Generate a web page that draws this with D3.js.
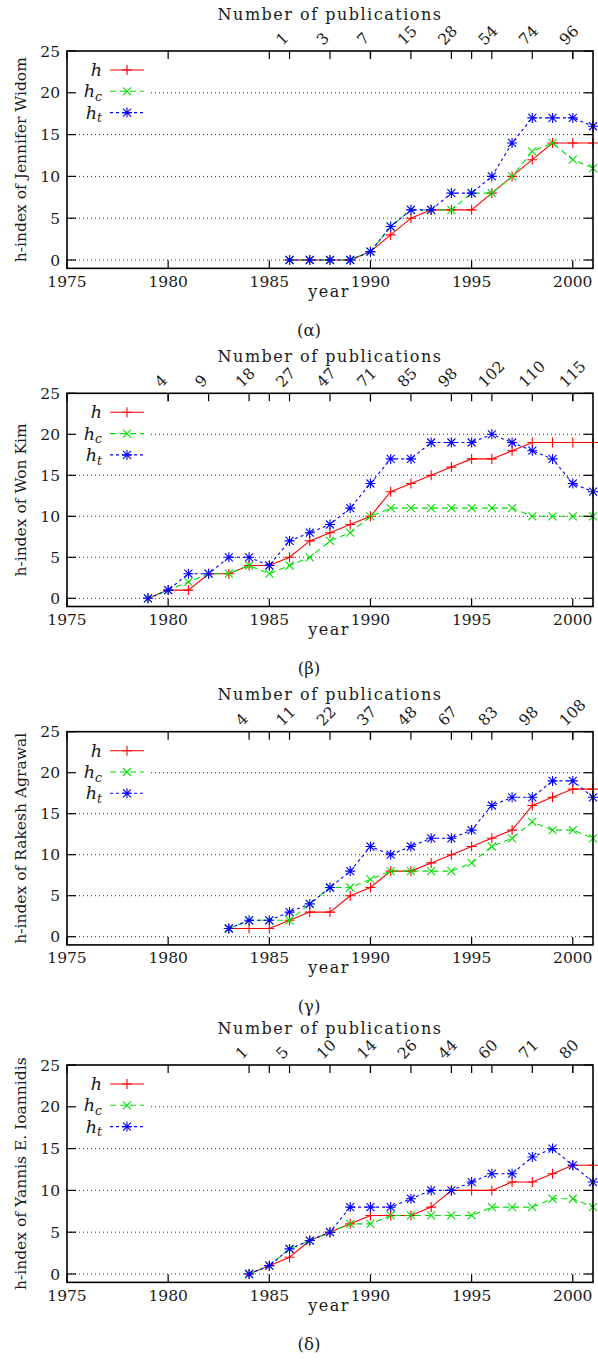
<!DOCTYPE html>
<html><head><meta charset="utf-8">
<script src="https://cdn.jsdelivr.net/npm/d3@7"></script>
<style>body{margin:0;background:#fff}svg{display:block}</style>
</head><body>
<svg id="c" width="598" height="1363"></svg>
<script>
// ---------- data ----------
const namesList = ["Jennifer Widom", "Won Kim", "Rakesh Agrawal", "Yannis E. Ioannidis"];
const captions = ["(α)", "(β)", "(γ)", "(δ)"];
const xTicks = [1975, 1980, 1985, 1990, 1995, 2000];
const yTicks = [0, 5, 10, 15, 20, 25];

const yearsA = [1986,1987,1988,1989,1990,1991,1992,1993,1994,1995,1996,1997,1998,1999,2000,2001];
const hA  = [0,0,0,0,1,3,5,6,6,6,8,10,12,14,14,14];
const hcA = [0,0,0,0,1,4,6,6,6,8,8,10,13,14,12,11];
const htA = [0,0,0,0,1,4,6,6,8,8,10,14,17,17,17,16];
const pubYearsA = [1986,1988,1990,1992,1994,1996,1998,2000];
const pubLabelsA = ["1","3","7","15","28","54","74","96"];

const yearsB = [1979,1980,1981,1982,1983,1984,1985,1986,1987,1988,1989,1990,1991,1992,1993,1994,1995,1996,1997,1998,1999,2000,2001];
const hB  = [0,1,1,3,3,4,4,5,7,8,9,10,13,14,15,16,17,17,18,19,19,19,19];
const hcB = [0,1,2,3,3,4,3,4,5,7,8,10,11,11,11,11,11,11,11,10,10,10,10];
const htB = [0,1,3,3,5,5,4,7,8,9,11,14,17,17,19,19,19,20,19,18,17,14,13];
const pubYearsB = [1980,1982,1984,1986,1988,1990,1992,1994,1996,1998,2000];
const pubLabelsB = ["4","9","18","27","47","71","85","98","102","110","115"];

const yearsC = [1983,1984,1985,1986,1987,1988,1989,1990,1991,1992,1993,1994,1995,1996,1997,1998,1999,2000,2001];
const hC  = [1,1,1,2,3,3,5,6,8,8,9,10,11,12,13,16,17,18,18];
const hcC = [1,2,2,2,4,6,6,7,8,8,8,8,9,11,12,14,13,13,12];
const htC = [1,2,2,3,4,6,8,11,10,11,12,12,13,16,17,17,19,19,17];
const pubYearsC = [1984,1986,1988,1990,1992,1994,1996,1998,2000];
const pubLabelsC = ["4","11","22","37","48","67","83","98","108"];

const yearsD = [1984,1985,1986,1987,1988,1989,1990,1991,1992,1993,1994,1995,1996,1997,1998,1999,2000,2001];
const hD  = [0,1,2,4,5,6,7,7,7,8,10,10,10,11,11,12,13,13];
const hcD = [0,1,3,4,5,6,6,7,7,7,7,7,8,8,8,9,9,8];
const htD = [0,1,3,4,5,8,8,8,9,10,10,11,12,12,14,15,13,11];
const pubYearsD = [1984,1986,1988,1990,1992,1994,1996,1998,2000];
const pubLabelsD = ["1","5","10","14","26","44","60","71","80"];

const seriesNames = ["h", "c", "t"];

// ---------- assemble ----------
const panels = [
  {years: yearsA, vals: [hA, hcA, htA], pubYears: pubYearsA, pubLabels: pubLabelsA},
  {years: yearsB, vals: [hB, hcB, htB], pubYears: pubYearsB, pubLabels: pubLabelsB},
  {years: yearsC, vals: [hC, hcC, htC], pubYears: pubYearsC, pubLabels: pubLabelsC},
  {years: yearsD, vals: [hD, hcD, htD], pubYears: pubYearsD, pubLabels: pubLabelsD}
];
panels.forEach((p, i) => { p.name = namesList[i]; p.caption = captions[i]; });

// ---------- layout ----------
const tops  = [51, 393.3, 731.7, 1065];
const zeros = [260, 598.3, 936.7, 1274];
const colors = ["#ff0000", "#00e000", "#0000ff"];
const dashes = [null, "6,4", "3,3"];
const FONT = "DejaVu Serif";
const FS = 15.5;
const INK = "#1a1a1a";

const svg = d3.select("#c");
const x = d3.scaleLinear().domain([1975, 2001]).range([67, 593]);

const markerPath = (k, s) => {
  const plus = `M${-s},0H${s}M0,${-s}V${s}`;
  const d = s * 0.8;
  const cross = `M${-d},${-d}L${d},${d}M${-d},${d}L${d},${-d}`;
  return k === 0 ? plus : k === 1 ? cross : plus + cross;
};

panels.forEach((p, pi) => {
  const top = tops[pi], zero = zeros[pi];
  const y = d3.scaleLinear().domain([0, 25]).range([zero, top]);
  const bottom = y(-1);
  const g = svg.append("g");

  // grid (dotted)
  g.selectAll(".grid").data(yTicks.filter(v => v < 25)).enter().append("line")
    .attr("x1", x(1975)).attr("x2", x(2001))
    .attr("y1", d => y(d)).attr("y2", d => y(d))
    .attr("stroke", "#333").attr("stroke-width", 1).attr("stroke-dasharray", "1,3");

  // legend background (opaque key)
  g.append("rect").attr("x", x(1975) + 1).attr("y", top + 2)
    .attr("width", 82).attr("height", 70).attr("fill", "#fff");

  // series
  p.vals.forEach((vals, k) => {
    const pts = p.years.map((yr, i) => [yr, vals[i]]);
    const line = d3.line().x(d => x(d[0])).y(d => y(d[1]));
    g.append("path").attr("d", line(pts)).attr("fill", "none")
      .attr("stroke", colors[k]).attr("stroke-width", 1.1)
      .attr("stroke-dasharray", dashes[k]);
    g.selectAll(".m" + k).data(pts).enter().append("path")
      .attr("transform", d => `translate(${x(d[0])},${y(d[1])})`)
      .attr("d", markerPath(k, 5)).attr("stroke", colors[k]).attr("stroke-width", 1.1).attr("fill", "none");
  });

  // legend
  p.vals.forEach((vals, k) => {
    const ly = top + 19 + k * 21.3;
    const t = g.append("text").attr("x", 102).attr("y", ly).attr("dy", "0.35em")
      .attr("text-anchor", "end").attr("font-family", FONT).attr("font-style", "italic")
      .attr("font-size", FS + 2).attr("fill", INK).text("h");
    if (k > 0) {
      t.append("tspan").attr("font-size", FS - 3).attr("dy", "0.3em").text(seriesNames[k]);
    }
    g.append("line").attr("x1", 110).attr("x2", 144).attr("y1", ly).attr("y2", ly)
      .attr("stroke", colors[k]).attr("stroke-width", 1.1).attr("stroke-dasharray", dashes[k]);
    g.append("path").attr("transform", `translate(127,${ly})`).attr("d", markerPath(k, 5))
      .attr("stroke", colors[k]).attr("stroke-width", 1.1).attr("fill", "none");
  });

  // border
  g.append("rect").attr("x", x(1975)).attr("y", top).attr("width", x(2001) - x(1975))
    .attr("height", bottom - top).attr("fill", "none").attr("stroke", "#000").attr("stroke-width", 1.6);

  // y ticks (left and mirrored right)
  yTicks.forEach(v => {
    g.append("line").attr("x1", x(1975)).attr("x2", x(1975) + 9).attr("y1", y(v)).attr("y2", y(v))
      .attr("stroke", "#000").attr("stroke-width", 1.2);
    g.append("line").attr("x1", x(2001)).attr("x2", x(2001) - 9).attr("y1", y(v)).attr("y2", y(v))
      .attr("stroke", "#000").attr("stroke-width", 1.2);
    g.append("text").attr("x", 60).attr("y", y(v)).attr("dy", "0.36em").attr("text-anchor", "end")
      .attr("font-family", FONT).attr("font-size", FS).attr("fill", INK).text(v);
  });

  // x ticks (bottom and mirrored top)
  xTicks.forEach(v => {
    g.append("line").attr("x1", x(v)).attr("x2", x(v)).attr("y1", bottom).attr("y2", bottom - 8)
      .attr("stroke", "#000").attr("stroke-width", 1.2);
    g.append("line").attr("x1", x(v)).attr("x2", x(v)).attr("y1", top).attr("y2", top + 8)
      .attr("stroke", "#000").attr("stroke-width", 1.2);
    g.append("text").attr("x", x(v)).attr("y", bottom + 18.5).attr("text-anchor", "middle")
      .attr("font-family", FONT).attr("font-size", FS).attr("fill", INK).text(v);
  });

  // x2 ticks: number of publications (labels rotated 45 degrees)
  p.pubYears.forEach((v, i) => {
    g.append("line").attr("x1", x(v)).attr("x2", x(v)).attr("y1", top).attr("y2", top + 8)
      .attr("stroke", "#000").attr("stroke-width", 1.2);
    g.append("g").attr("transform", `translate(${x(v) - 7},${top - 5})`)
      .append("g").attr("transform", "rotate(-45)")
      .append("text").attr("x", 0).attr("y", 0)
      .attr("text-anchor", "start").attr("font-family", FONT).attr("font-size", FS)
      .attr("fill", INK).text(p.pubLabels[i]);
  });

  // labels
  g.append("text").attr("x", 330).attr("y", top - 37).attr("dy", "0.35em").attr("text-anchor", "middle")
    .attr("font-family", FONT).attr("font-size", 16).attr("letter-spacing", 1.5)
    .attr("fill", INK).text("Number of publications");
  g.append("text").attr("x", 329).attr("y", zero + 31).attr("dy", "0.35em").attr("text-anchor", "middle")
    .attr("font-family", FONT).attr("font-size", 16).attr("letter-spacing", 1.5)
    .attr("fill", INK).text("year");
  g.append("text").attr("transform", `translate(21,${(top + bottom) / 2}) rotate(-90)`)
    .attr("dy", "0.35em").attr("text-anchor", "middle")
    .attr("font-family", FONT).attr("font-size", FS).attr("fill", INK).text("h-index of " + p.name);
  g.append("text").attr("x", 309).attr("y", zero + 70).attr("dy", "0.35em").attr("text-anchor", "middle")
    .attr("font-family", FONT).attr("font-size", FS + 1).attr("fill", INK).text(p.caption);
});
</script>
</body></html>
